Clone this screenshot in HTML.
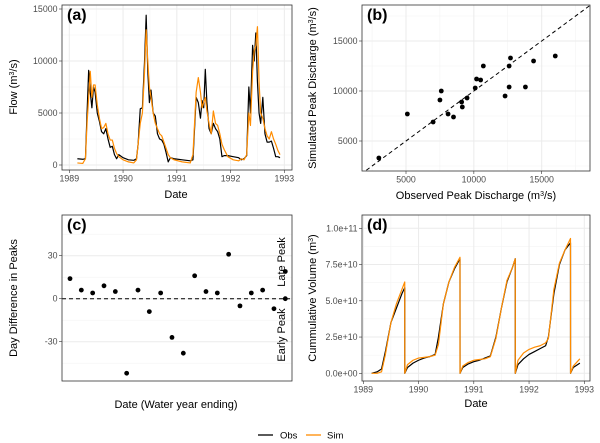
<!DOCTYPE html>
<html><head><meta charset="utf-8"><style>
html,body{margin:0;padding:0;background:#fff}
svg{display:block;font-family:"Liberation Sans",sans-serif}
.tk{font-size:8.8px;fill:#4d4d4d}
.ti{font-size:11px;fill:#000}
.pl{font-size:16px;font-weight:bold;fill:#000}
</style></head><body>
<svg id="chart" width="600" height="443" viewBox="0 0 600 443" xmlns="http://www.w3.org/2000/svg"><defs><clipPath id="clipb"><rect x="362" y="5" width="228" height="166"/></clipPath></defs></svg>
<script>
// Panel (a) flow time series (thousand m3/s)
const flowDates=[1989.15,1989.25,1989.3,1989.33,1989.36,1989.39,1989.42,1989.45,1989.48,1989.52,1989.56,1989.6,1989.64,1989.68,1989.72,1989.76,1989.8,1989.84,1989.88,1989.92,1990.0,1990.1,1990.2,1990.25,1990.28,1990.32,1990.36,1990.4,1990.43,1990.46,1990.49,1990.52,1990.56,1990.6,1990.64,1990.68,1990.72,1990.76,1990.8,1990.84,1990.88,1990.95,1991.1,1991.25,1991.3,1991.33,1991.36,1991.4,1991.44,1991.47,1991.5,1991.53,1991.56,1991.6,1991.64,1991.68,1991.72,1991.76,1991.8,1991.84,1991.88,1991.95,1992.05,1992.15,1992.2,1992.25,1992.3,1992.34,1992.37,1992.41,1992.44,1992.47,1992.5,1992.53,1992.56,1992.6,1992.64,1992.68,1992.72,1992.76,1992.8,1992.84,1992.88,1992.92];
const flowObs=[0.6,0.55,0.6,5,9.1,7,5.5,7.5,7,5,4.2,3.2,3,3.5,2.5,1.7,1.8,1,0.6,1,0.7,0.5,0.45,0.6,2,5.4,5.5,10,14.4,9,6,7.2,5,4.7,3,2.5,2.4,2,1.2,0.3,0.7,0.6,0.5,0.4,0.5,3.5,6.5,6,4.5,6.2,5.5,9.2,6,3.5,3,4,3.5,3.2,2.5,0.8,0.9,0.9,0.8,0.7,0.5,0.6,0.9,7.5,5,11.5,10,12.7,8,5,4,6.5,3,2.2,2.2,2.3,1.6,0.8,0.8,0.7];
const flowSim=[0.2,0.15,0.6,4,6.5,9,6.5,7.7,7.7,5.8,4.5,3.5,3.6,4,3,2.4,2.4,1.6,1.1,0.8,0.5,0.3,0.2,0.5,2,4,5,9,13,10,7.5,6.5,5,4,3.5,3,2.8,2.2,1.6,1,0.7,0.5,0.3,0.2,1,4,7,8.4,7,5.5,6,6.5,5.2,4,3,5.2,4,3.8,3,2,1.5,0.8,0.5,0.4,0.6,0.5,1,5,3.8,9,11,11.5,13.3,8,5,4.5,3.5,2.8,2.5,3.2,2.5,2,1.4,1];
// Panel (b) peaks (m3/s)
const peakObs=[3000,5100,7000,7500,7600,8100,8500,9100,9150,9500,10100,10200,10500,10700,12300,12600,12600,12700,13800,14400,16000];
const peakSim=[3300,7700,6900,9100,10000,7700,7400,8900,8400,9300,10300,11200,11100,12500,9500,10400,12500,13300,10400,13000,13500];
// Panel (c) day difference
const yearIndex=[1,2,3,4,5,6,7,8,9,10,11,12,13,14,15,16,17,18,19,20,20];
const dayDiff=[14,6,4,9,5,-52,6,-9,4,-27,-38,16,5,4,31,-5,4,6,-7,19,0];
// Panel (d) cumulative volume (1e10 m3)
const volDates=[1989.15,1989.25,1989.33,1989.4,1989.5,1989.6,1989.7,1989.75,1989.751,1989.8,1989.9,1990.0,1990.1,1990.2,1990.3,1990.36,1990.45,1990.55,1990.65,1990.75,1990.751,1990.8,1990.9,1991.0,1991.1,1991.2,1991.3,1991.4,1991.5,1991.6,1991.7,1991.75,1991.751,1991.8,1991.9,1992.0,1992.1,1992.2,1992.3,1992.35,1992.45,1992.55,1992.65,1992.75,1992.751,1992.8,1992.92];
const volObs=[0,0.1,0.3,1.5,3.5,4.5,5.5,5.9,0,0.4,0.7,0.9,1.05,1.15,1.3,2.5,4.8,6.3,7.2,7.9,0,0.4,0.65,0.8,0.9,1.05,1.2,2.5,4.5,6.3,7.3,7.9,0,0.6,1.0,1.3,1.5,1.7,1.9,2.5,5.5,7.5,8.5,9.0,0,0.4,0.7];
const volSim=[0,0,0.1,1.3,3.5,4.8,5.8,6.3,0,0.6,0.9,1.05,1.1,1.15,1.25,2,4.8,6.3,7.3,8,0,0.5,0.75,0.9,0.95,1.0,1.15,2.4,4.5,6.4,7.3,7.9,0,0.9,1.4,1.65,1.8,1.9,2.1,2.4,5.8,7.6,8.5,9.3,0,0.5,1.0];
const yearTicks=[1989,1990,1991,1992,1993];
const peakTicks=[5000,10000,15000];
const flowTicks=[0,5000,10000,15000];
const dayTicks=[-30,0,30];
const volTicks=[0,2.5,5,7.5,10];
const volTickLabels=["0.0e+00","2.5e+10","5.0e+10","7.5e+10","1.0e+11"];

const NS="http://www.w3.org/2000/svg";
const svg=document.getElementById('chart');
function mk(tag,attrs,parent){const e=document.createElementNS(NS,tag);for(const k in attrs)e.setAttribute(k,attrs[k]);(parent||svg).appendChild(e);return e;}
function lin(d0,d1,r0,r1){return v=>r0+(v-d0)/(d1-d0)*(r1-r0);}

function panel(name,x0,x1,y0,y1,sx,sy,xt,xtl,yt,ytl,xminor,yminor,label){
  const g=mk('g',{});
  
  
  mk('rect',{x:x0,y:y0,width:x1-x0,height:y1-y0,fill:'#fff'},g);
  yminor.forEach(v=>mk('line',{x1:x0,x2:x1,y1:sy(v),y2:sy(v),stroke:'#f2f2f2','stroke-width':0.5},g));
  xminor.forEach(v=>mk('line',{y1:y0,y2:y1,x1:sx(v),x2:sx(v),stroke:'#f2f2f2','stroke-width':0.5},g));
  yt.forEach(v=>mk('line',{x1:x0,x2:x1,y1:sy(v),y2:sy(v),stroke:'#ebebeb','stroke-width':1},g));
  if(xt)xt.forEach(v=>mk('line',{y1:y0,y2:y1,x1:sx(v),x2:sx(v),stroke:'#ebebeb','stroke-width':1},g));
  yt.forEach((v,i)=>{mk('line',{x1:x0-3,x2:x0,y1:sy(v),y2:sy(v),stroke:'#333','stroke-width':0.6},g);
    const t=mk('text',{x:x0-4.5,y:sy(v)+3,'text-anchor':'end',class:'tk'},g);t.textContent=ytl[i];
    });
  if(xt)xt.forEach((v,i)=>{mk('line',{y1:y1,y2:y1+3,x1:sx(v),x2:sx(v),stroke:'#333','stroke-width':0.6},g);
    const t=mk('text',{x:sx(v),y:y1+11.5,'text-anchor':'middle',class:'tk'},g);t.textContent=xtl[i];
    });
  const body=mk('g',{},g);
  return {g,body,finish:()=>{
    mk('rect',{x:x0,y:y0,width:x1-x0,height:y1-y0,fill:'none',stroke:'#333','stroke-width':0.8},g);
    const l=mk('text',{x:x0+5,y:y0+15,class:'pl'},g);l.textContent=label;
    
  }};
}
function path(arrX,arrY,sx,sy,color,parent,name){
  const d=arrX.map((x,i)=>(i?'L':'M')+sx(x).toFixed(2)+' '+sy(arrY[i]).toFixed(2)).join('');
  const p=mk('path',{d:d,fill:'none',stroke:color,'stroke-width':1.2,'stroke-linejoin':'round'},parent);
  
}
function text(x,y,str,cls,name,rot,anchor){
  const t=mk('text',{x:x,y:y,class:cls,'text-anchor':anchor||'middle'});
  if(rot)t.setAttribute('transform','rotate(-90 '+x+' '+y+')');
  t.innerHTML=str;return t;
}
const OR='#ff8c00';
// (a)
{const sx=lin(1988.864,1993.143,62,292),sy=lin(0,15000,165,9);
 const P=panel('panel-a-flow',62,292,5,170,sx,sy,yearTicks,yearTicks.map(String),flowTicks,flowTicks.map(String),[1989.5,1990.5,1991.5,1992.5],[2500,7500,12500],'(a)');
 const s=v=>sy(v*1000);
 path(flowDates,flowObs,sx,s,'#000',P.body,'obs-flow-line');
 path(flowDates,flowSim,sx,s,OR,P.body,'sim-flow-line');
 P.finish();
 text(176,198,'Date','ti','x-axis-title');
 text(17,87,'Flow (m<tspan baseline-shift="super" font-size="7">3</tspan>/s)','ti','y-axis-title',true);}
// (b)
{const sx=lin(5000,15000,406,541.7),sy=lin(5000,15000,141,41);
 const P=panel('panel-b-peaks',362,590,5,171,sx,sy,peakTicks,peakTicks.map(String),peakTicks,peakTicks.map(String),[2500,7500,12500,17500],[2500,7500,12500,17500],'(b)');
 const cg=mk('g',{'clip-path':'url(#clipb)'},P.body);
 const dl=mk('line',{x1:sx(0),y1:sy(0),x2:sx(20000),y2:sy(20000),stroke:'#000','stroke-width':1,'stroke-dasharray':'4,3'},cg);
 
 peakObs.forEach((v,i)=>{const c=mk('circle',{cx:sx(v),cy:sy(peakSim[i]),r:2.4,fill:'#000'},P.body);
   });
 P.finish();
 text(476,199,'Observed Peak Discharge (m<tspan baseline-shift="super" font-size="7">3</tspan>/s)','ti','x-axis-title');
 text(316,88,'Simulated Peak Discharge (m<tspan baseline-shift="super" font-size="7">3</tspan>/s)','ti','y-axis-title',true);}
// (c)
{const sx=lin(1,20,70,285.3),sy=lin(-30,30,341.7,255.7);
 const P=panel('panel-c-timing',62,292,215,381,sx,sy,null,null,dayTicks,dayTicks.map(String),[],[-45,-15,15,45],'(c)');
 const zl=mk('line',{x1:62,x2:292,y1:sy(0),y2:sy(0),stroke:'#000','stroke-width':1,'stroke-dasharray':'4,3'},P.body);
 
 dayDiff.forEach((v,i)=>{const c=mk('circle',{cx:sx(yearIndex[i]),cy:sy(v),r:2.4,fill:'#000'},P.body);
   });
 P.finish();
 text(285,262,'Late Peak','ti','late-peak-label',true);
 text(285,335,'Early Peak','ti','early-peak-label',true);
 text(176,408,'Date (Water year ending)','ti','x-axis-title');
 text(17,298,'Day Difference in Peaks','ti','y-axis-title',true);}
// (d)
{const sx=lin(1989,1993,363.3,584.3),sy=lin(0,10,373.3,228.3);
 const P=panel('panel-d-volume',362,590,215,381,sx,sy,yearTicks,yearTicks.map(String),volTicks,volTickLabels,[1989.5,1990.5,1991.5,1992.5],[1.25,3.75,6.25,8.75],'(d)');
 path(volDates,volObs,sx,sy,'#000',P.body,'obs-volume-line');
 path(volDates,volSim,sx,sy,OR,P.body,'sim-volume-line');
 P.finish();
 text(476,407,'Date','ti','x-axis-title');
 text(316,298,'Cummulative Volume (m<tspan baseline-shift="super" font-size="7">3</tspan>)','ti','y-axis-title',true);}
// legend
{const g=mk('g',{});
 mk('line',{x1:258,x2:273,y1:435,y2:435,stroke:'#000','stroke-width':1.3},g);
 mk('line',{x1:306,x2:321,y1:435,y2:435,stroke:OR,'stroke-width':1.3},g);
 const a=mk('text',{x:280,y:438.5,style:'font-size:9.5px'},g);a.textContent='Obs';
 
 const b=mk('text',{x:327,y:438.5,style:'font-size:9.5px'},g);b.textContent='Sim';
 }
</script>
</body></html>
